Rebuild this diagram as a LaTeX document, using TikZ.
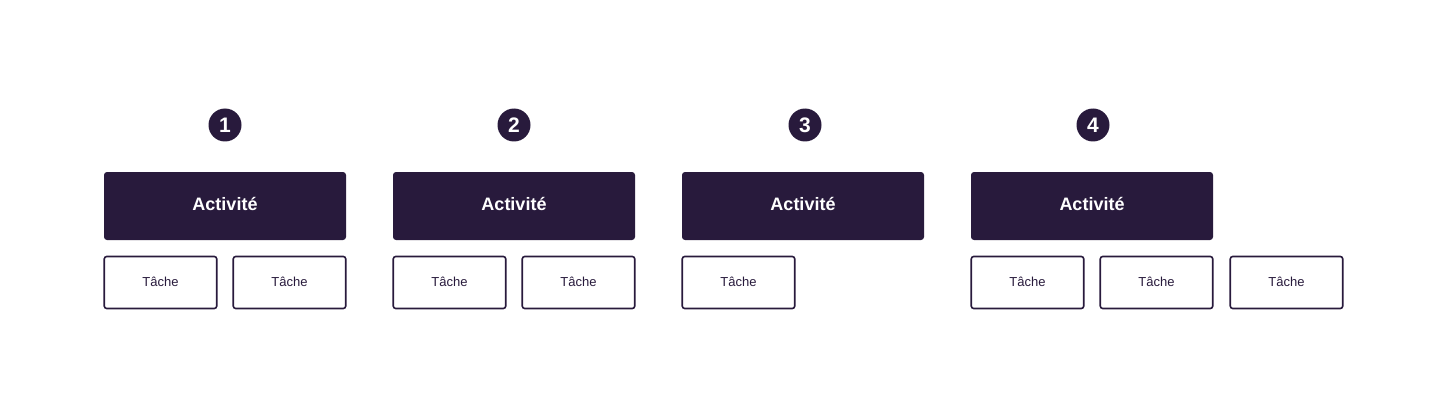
\documentclass[tikz,border=0pt]{standalone}
\usepackage{fontspec}
\setmainfont{Liberation Sans}
\definecolor{ink}{HTML}{281A3C}
\begin{document}
\begin{tikzpicture}[x=1pt,y=-1pt,
  activite/.style={fill=ink,draw=none,rounded corners=3pt,minimum width=242pt,minimum height=68pt,text=white,font=\fontsize{18}{20}\selectfont\bfseries,inner sep=0pt,text height=13pt,text depth=4pt},
  tache/.style={draw=ink,line width=1.6pt,rounded corners=2.5pt,fill=white,minimum width=112.5pt,minimum height=52pt,text=ink,font=\fontsize{13}{15}\selectfont,inner sep=0pt,text height=10pt,text depth=3pt},
  numero/.style={circle,fill=ink,minimum size=33pt,inner sep=0pt,text=white,font=\fontsize{21}{22}\selectfont\bfseries,text height=15pt,text depth=0pt}]
\useasboundingbox (0,0) rectangle (1448,417);
\fill[white] (0,0) rectangle (1448,417);
% group 1
\node[numero] (n1) at (225,125) {1};
\node[activite] (a1) at (225,206) {Activité};
\node[tache] (t11) at (160.5,282.5) {Tâche};
\node[tache] (t12) at (289.5,282.5) {Tâche};
% group 2
\node[numero] (n2) at (514,125) {2};
\node[activite] (a2) at (514,206) {Activité};
\node[tache] (t21) at (449.5,282.5) {Tâche};
\node[tache] (t22) at (578.5,282.5) {Tâche};
% group 3
\node[numero] (n3) at (805,125) {3};
\node[activite] (a3) at (803,206) {Activité};
\node[tache] (t31) at (738.5,282.5) {Tâche};
% group 4
\node[numero] (n4) at (1093,125) {4};
\node[activite] (a4) at (1092,206) {Activité};
\node[tache] (t41) at (1027.5,282.5) {Tâche};
\node[tache] (t42) at (1156.5,282.5) {Tâche};
\node[tache] (t43) at (1286.5,282.5) {Tâche};
\end{tikzpicture}
\end{document}
